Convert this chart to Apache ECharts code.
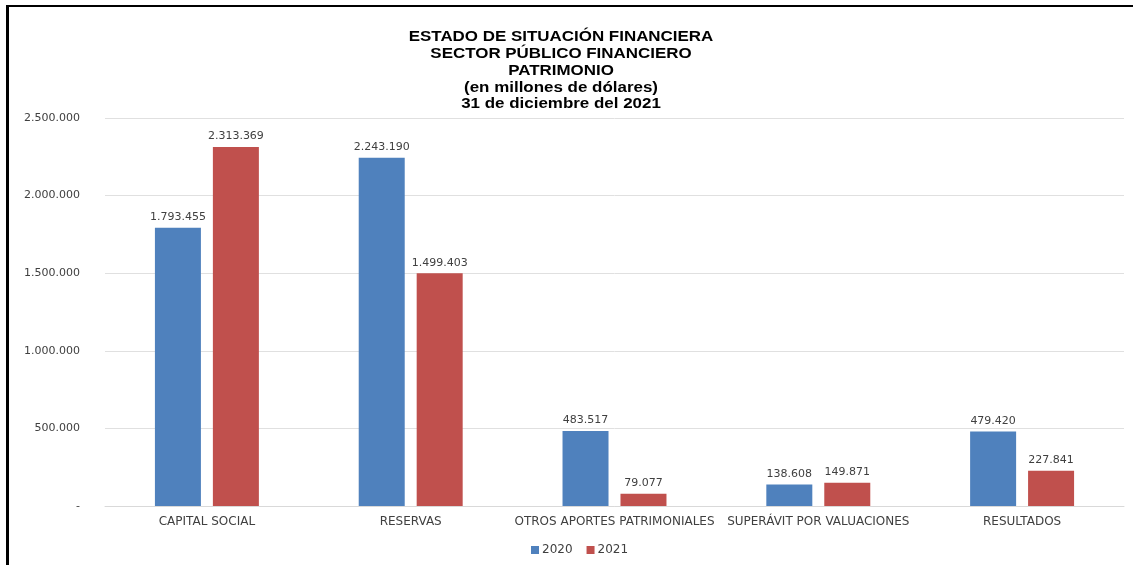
<!DOCTYPE html>
<html>
<head>
<meta charset="utf-8">
<script src="https://cdn.jsdelivr.net/npm/echarts@6/dist/echarts.min.js"></script>
<style>
html,body{margin:0;padding:0;background:#fff;}
#chart{width:1133px;height:565px;}
</style>
</head>
<body>
<div id="chart"></div>
<script>
const categories = ['CAPITAL SOCIAL', 'RESERVAS', 'OTROS APORTES PATRIMONIALES', 'SUPERÁVIT POR VALUACIONES', 'RESULTADOS'];
const values2020 = [1793455, 2243190, 483517, 138608, 479420];
const values2021 = [2313369, 1499403, 79077, 149871, 227841];
const seriesNames = ['2020', '2021'];
const titleLines = ['ESTADO DE SITUACIÓN FINANCIERA', 'SECTOR PÚBLICO FINANCIERO', 'PATRIMONIO', '(en millones de dólares)', '31 de diciembre del 2021'];

function fmt(v) {
  if (v === 0) return '-';
  return String(Math.round(v)).replace(/\B(?=(\d{3})+(?!\d))/g, '.');
}

const chart = echarts.init(document.getElementById('chart'));
const labelStyle = {
  show: true, position: 'top', distance: 5,
  fontFamily: 'DejaVu Sans', fontSize: 11, color: '#404040',
  formatter: p => fmt(p.value)
};
chart.setOption({
  animation: false,
  graphic: [
    // frame lines along the top and left edges
    { type: 'line', shape: { x1: 6, y1: 6, x2: 1133, y2: 6 }, style: { stroke: '#000', lineWidth: 2 } },
    { type: 'line', shape: { x1: 7.5, y1: 5, x2: 7.5, y2: 565 }, style: { stroke: '#000', lineWidth: 3 } },
    // wide bold heading block
    { type: 'text', x: 561, y: 29, scaleX: 1.21, scaleY: 1,
      style: { text: titleLines.join('\n'), font: 'bold 14px "Liberation Sans"',
               textAlign: 'center', align: 'center', textVerticalAlign: 'top', verticalAlign: 'top',
               lineHeight: 16.8, fill: '#000' } }
  ],
  legend: {
    data: seriesNames, left: 531, top: 544, padding: 0, itemWidth: 8, itemHeight: 8, itemGap: 14,
    icon: 'rect',
    textStyle: { fontFamily: 'DejaVu Sans', fontSize: 12, color: '#404040', padding: [0, 0, 0, -2] }
  },
  grid: { left: 105, right: 9, top: 118, bottom: 59, containLabel: false },
  xAxis: {
    type: 'category', data: categories,
    axisLine: { lineStyle: { color: '#d9d9d9', width: 1 } },
    axisTick: { show: false },
    axisLabel: { interval: 0, fontFamily: 'DejaVu Sans', fontSize: 12, color: '#404040', margin: 10 }
  },
  yAxis: {
    type: 'value', min: 0, max: 2500000, interval: 500000,
    axisLine: { show: false }, axisTick: { show: false },
    splitLine: { lineStyle: { color: '#e0e0e0', width: 1 } },
    axisLabel: { formatter: fmt, fontFamily: 'DejaVu Sans', fontSize: 11, color: '#404040', margin: 25 }
  },
  series: [
    { name: seriesNames[0], type: 'bar', data: values2020, barWidth: 46, barGap: '26%',
      itemStyle: { color: '#4F81BD' }, label: labelStyle },
    { name: seriesNames[1], type: 'bar', data: values2021, barWidth: 46,
      itemStyle: { color: '#C0504D' }, label: labelStyle }
  ]
});
</script>
</body>
</html>
